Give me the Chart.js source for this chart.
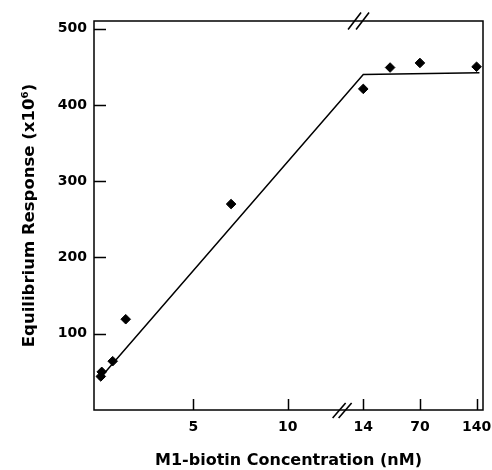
<!DOCTYPE html>
<html>
<head>
<meta charset="utf-8">
<script src="https://cdn.jsdelivr.net/npm/chart.js@4.4.0/dist/chart.umd.min.js"></script>
<style>
    html, body { margin: 0; padding: 0; background: #fff; }
    #wrap { width: 492px; height: 470px; }
</style>
</head>
<body>
<div id="wrap"><canvas id="chart"></canvas></div>
<script>
// Mesures : concentration M1-biotin (nM) / réponse à l'équilibre (x10^6)
const concentrations = [0.1, 0.15, 0.73, 1.42, 7, 14, 30, 70, 140];
const responses = [44, 50, 64, 119, 270, 421, 449, 455, 450];

// Droite ajustée : montée linéaire puis plateau
const fitConcentrations = [0, 14, 145];
const fitResponses = [40, 440, 442];

// Graduations
const xTickValues = [5, 10, 14, 70, 140];
const yTickValues = [100, 200, 300, 400, 500];

// Axe coupé : linéaire jusqu'à 14, puis 14 / 70 / 140 régulièrement espacés
const breakAnchors = [14, 70, 140];
const breakPositions = [14, 17, 20];

const FONT = '"DejaVu Sans", sans-serif';

function toPos(c) {
    if (c <= breakAnchors[0]) return c;
    let i = 0;
    while (i < breakAnchors.length - 2 && c > breakAnchors[i + 1]) i++;
    const a = breakAnchors[i], b = breakAnchors[i + 1];
    const pa = breakPositions[i], pb = breakPositions[i + 1];
    return pa + (pb - pa) * Math.log(c / a) / Math.log(b / a);
}

// Cadre, graduations intérieures et marques de coupure
const framePlugin = {
    id: 'frame',
    afterDraw(chart) {
        const { ctx, chartArea: area, scales: { x, y } } = chart;
        ctx.save();
        ctx.strokeStyle = '#000';
        ctx.lineWidth = 1.5;
        ctx.strokeRect(area.left, area.top, area.right - area.left, area.bottom - area.top);

        ctx.beginPath();
        yTickValues.forEach(v => {
            const py = Math.round(y.getPixelForValue(v)) + 0.5;
            ctx.moveTo(area.left, py);
            ctx.lineTo(area.left + 12, py);
        });
        xTickValues.forEach(v => {
            const px = Math.round(x.getPixelForValue(toPos(v))) + 0.5;
            ctx.moveTo(px, area.bottom);
            ctx.lineTo(px, area.bottom - 11);
        });
        ctx.stroke();

        // "//" en haut et en bas
        ctx.lineWidth = 1.6;
        ctx.beginPath();
        const top = x.getPixelForValue(13.75);
        [-4, 4].forEach(d => {
            ctx.moveTo(top + d - 6.5, area.top + 8.5);
            ctx.lineTo(top + d + 6.5, area.top - 8.5);
        });
        const bottom = x.getPixelForValue(12.88);
        [-3, 3].forEach(d => {
            ctx.moveTo(bottom + d - 6.5, area.bottom + 8);
            ctx.lineTo(bottom + d + 6.5, area.bottom - 7);
        });
        ctx.stroke();
        ctx.restore();
    }
};

new Chart(document.getElementById('chart'), {
    type: 'scatter',
    data: {
        datasets: [{
            label: 'Mesures',
            data: concentrations.map((c, i) => ({ x: toPos(c), y: responses[i] })),
            pointStyle: 'rectRot',
            pointRadius: 4.8,
            backgroundColor: '#000',
            borderColor: '#000',
            borderWidth: 1
        }, {
            label: 'Ajustement',
            data: fitConcentrations.map((c, i) => ({ x: toPos(c), y: fitResponses[i] })),
            showLine: true,
            pointRadius: 0,
            borderColor: '#000',
            borderWidth: 1.5,
            fill: false
        }]
    },
    options: {
        responsive: true,
        maintainAspectRatio: false,
        animation: false,
        layout: { padding: { top: 21, right: 9, bottom: 0, left: 0 } },
        plugins: {
            legend: { display: false },
            tooltip: { enabled: false }
        },
        scales: {
            x: {
                type: 'linear',
                min: -0.26,
                max: 20.34,
                grid: { display: false, drawTicks: false },
                border: { display: false },
                afterBuildTicks: scale => {
                    scale.ticks = xTickValues.map(v => ({ value: toPos(v) }));
                },
                afterFit: scale => {
                    scale.height = 60;
                    scale.paddingLeft = 0;
                    scale.paddingRight = 0;
                },
                ticks: {
                    autoSkip: false,
                    maxRotation: 0,
                    padding: 9,
                    color: '#000',
                    font: { family: FONT, size: 14, weight: 'bold' },
                    callback: (value, index) => xTickValues[index]
                },
                title: {
                    display: true,
                    text: 'M1-biotin Concentration (nM)',
                    color: '#000',
                    font: { family: FONT, size: 16, weight: 'bold' },
                    padding: { top: 0, bottom: 0 }
                }
            },
            y: {
                min: 0,
                max: 510,
                grid: { display: false, drawTicks: false },
                border: { display: false },
                afterBuildTicks: scale => {
                    scale.ticks = yTickValues.map(v => ({ value: v }));
                },
                afterFit: scale => {
                    scale.width = 94;
                    scale.paddingTop = 0;
                    scale.paddingBottom = 0;
                },
                ticks: {
                    padding: 7,
                    color: '#000',
                    font: { family: FONT, size: 14, weight: 'bold' }
                },
                title: {
                    display: true,
                    text: 'Equilibrium Response (x10⁶)',
                    color: '#000',
                    font: { family: FONT, size: 16.5, weight: 'bold' },
                    padding: { top: 20, bottom: 0 }
                }
            }
        }
    },
    plugins: [framePlugin]
});
</script>
</body>
</html>
